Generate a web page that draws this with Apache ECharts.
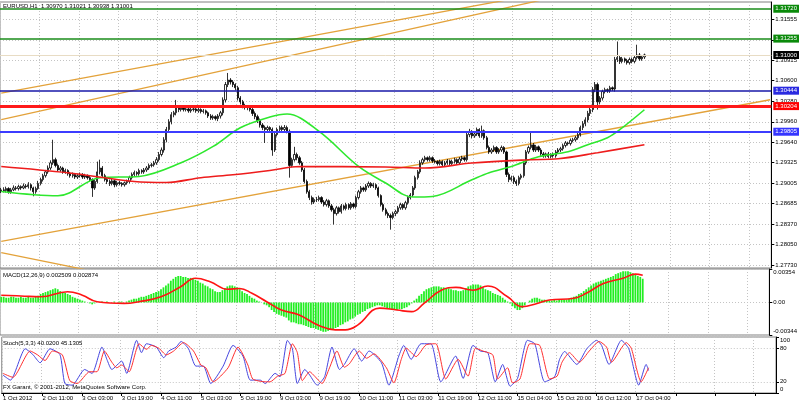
<!DOCTYPE html>
<html><head><meta charset="utf-8">
<script src="https://cdn.jsdelivr.net/npm/echarts@6/dist/echarts.min.js"></script>
<style>html,body{margin:0;padding:0;background:#fff}#c{width:800px;height:403px}</style>
</head><body><div id="c"></div>
<script>
// ---------- tick labels ----------
const timeLabels = ['1 Oct 2012','2 Oct 11:00','3 Oct 03:00','3 Oct 19:00','4 Oct 11:00','5 Oct 03:00','5 Oct 19:00','9 Oct 03:00','9 Oct 19:00','10 Oct 11:00','11 Oct 03:00','11 Oct 19:00','12 Oct 11:00','15 Oct 04:00','15 Oct 20:00','16 Oct 12:00','17 Oct 04:00'];
const priceTicks = [1.27730,1.28050,1.28370,1.28685,1.29005,1.29325,1.29640,1.29960,1.30280,1.30600,1.30915,1.31235,1.31555];
const macdTicks = [0.00354, 0, -0.00344];
const stochTicks = [100, 80, 20, 0];

// ---------- EURUSD H1 candles ----------
const opens = [
1.2888,1.2890,1.2889,1.2892,1.2887,1.2890,1.2893,1.2892,1.2895,1.2893,1.2896,1.2895,1.2898,1.2893,1.2887,1.2892,
1.2900,1.2906,1.2912,1.2918,1.2924,1.2932,1.2937,1.2928,1.2921,1.2924,1.2918,1.2920,1.2915,1.2912,1.2914,1.2910,
1.2912,1.2914,1.2910,1.2912,1.2909,1.2906,1.2893,1.2903,1.2918,1.2924,1.2912,1.2906,1.2903,1.2900,1.2904,1.2898,
1.2901,1.2900,1.2898,1.2901,1.2903,1.2909,1.2914,1.2917,1.2915,1.2920,1.2918,1.2921,1.2924,1.2928,1.2929,1.2932,
1.2937,1.2945,1.2952,1.2968,1.2984,1.2996,1.3007,1.3010,1.3018,1.3015,1.3018,1.3015,1.3016,1.3013,1.3015,1.3016,
1.3013,1.3015,1.3012,1.3013,1.3010,1.3005,1.3002,1.3004,1.3001,1.3005,1.3010,1.3030,1.3054,1.3061,1.3058,1.3054,
1.3049,1.3033,1.3027,1.3021,1.3019,1.3018,1.3015,1.3009,1.3004,1.2998,1.2991,1.2987,1.2984,1.2987,1.2984,1.2952,
1.2976,1.2984,1.2987,1.2984,1.2987,1.2981,1.2928,1.2937,1.2945,1.2940,1.2932,1.2921,1.2903,1.2887,1.2878,1.2871,
1.2875,1.2875,1.2878,1.2871,1.2867,1.2873,1.2865,1.2859,1.2853,1.2862,1.2856,1.2865,1.2861,1.2867,1.2862,1.2868,
1.2864,1.2878,1.2887,1.2893,1.2890,1.2896,1.2900,1.2896,1.2898,1.2893,1.2881,1.2867,1.2859,1.2853,1.2850,1.2847,
1.2853,1.2856,1.2862,1.2867,1.2862,1.2870,1.2878,1.2882,1.2893,1.2909,1.2918,1.2932,1.2937,1.2940,1.2937,1.2940,
1.2935,1.2934,1.2931,1.2934,1.2929,1.2932,1.2935,1.2931,1.2934,1.2937,1.2932,1.2938,1.2940,1.2937,1.2976,1.2981,
1.2974,1.2977,1.2984,1.2974,1.2982,1.2971,1.2956,1.2949,1.2952,1.2956,1.2949,1.2952,1.2956,1.2949,1.2914,1.2906,
1.2909,1.2903,1.2900,1.2909,1.2912,1.2932,1.2949,1.2956,1.2960,1.2952,1.2957,1.2952,1.2946,1.2943,1.2946,1.2942,
1.2945,1.2943,1.2949,1.2952,1.2954,1.2959,1.2963,1.2962,1.2967,1.2968,1.2971,1.2976,1.2987,1.2993,1.2999,1.3009,
1.3015,1.3046,1.3054,1.3027,1.3033,1.3043,1.3046,1.3044,1.3049,1.3047,1.3093,1.3096,1.3090,1.3094,1.3091,1.3088,
1.3093,1.3090,1.3096,1.3100,1.3094,1.30970];
const closes = [
1.2890,1.2889,1.2892,1.2887,1.2890,1.2893,1.2892,1.2895,1.2893,1.2896,1.2895,1.2898,1.2893,1.2887,1.2892,1.2900,
1.2906,1.2912,1.2918,1.2924,1.2932,1.2937,1.2928,1.2921,1.2924,1.2918,1.2920,1.2915,1.2912,1.2914,1.2910,1.2912,
1.2914,1.2910,1.2912,1.2909,1.2906,1.2893,1.2903,1.2918,1.2924,1.2912,1.2906,1.2903,1.2900,1.2904,1.2898,1.2901,
1.2900,1.2898,1.2901,1.2903,1.2909,1.2914,1.2917,1.2915,1.2920,1.2918,1.2921,1.2924,1.2928,1.2929,1.2932,1.2937,
1.2945,1.2952,1.2968,1.2984,1.2996,1.3007,1.3010,1.3018,1.3015,1.3018,1.3015,1.3016,1.3013,1.3015,1.3016,1.3013,
1.3015,1.3012,1.3013,1.3010,1.3005,1.3002,1.3004,1.3001,1.3005,1.3010,1.3030,1.3054,1.3061,1.3058,1.3054,1.3049,
1.3033,1.3027,1.3021,1.3019,1.3018,1.3015,1.3009,1.3004,1.2998,1.2991,1.2987,1.2984,1.2987,1.2984,1.2952,1.2976,
1.2984,1.2987,1.2984,1.2987,1.2981,1.2928,1.2937,1.2945,1.2940,1.2932,1.2921,1.2903,1.2887,1.2878,1.2871,1.2875,
1.2875,1.2878,1.2871,1.2867,1.2873,1.2865,1.2859,1.2853,1.2862,1.2856,1.2865,1.2861,1.2867,1.2862,1.2868,1.2864,
1.2878,1.2887,1.2893,1.2890,1.2896,1.2900,1.2896,1.2898,1.2893,1.2881,1.2867,1.2859,1.2853,1.2850,1.2847,1.2853,
1.2856,1.2862,1.2867,1.2862,1.2870,1.2878,1.2882,1.2893,1.2909,1.2918,1.2932,1.2937,1.2940,1.2937,1.2940,1.2935,
1.2934,1.2931,1.2934,1.2929,1.2932,1.2935,1.2931,1.2934,1.2937,1.2932,1.2938,1.2940,1.2937,1.2976,1.2981,1.2974,
1.2977,1.2984,1.2974,1.2982,1.2971,1.2956,1.2949,1.2952,1.2956,1.2949,1.2952,1.2956,1.2949,1.2914,1.2906,1.2909,
1.2903,1.2900,1.2909,1.2912,1.2932,1.2949,1.2956,1.2960,1.2952,1.2957,1.2952,1.2946,1.2943,1.2946,1.2942,1.2945,
1.2943,1.2949,1.2952,1.2954,1.2959,1.2963,1.2962,1.2967,1.2968,1.2971,1.2976,1.2987,1.2993,1.2999,1.3009,1.3015,
1.3046,1.3054,1.3027,1.3033,1.3043,1.3046,1.3044,1.3049,1.3047,1.3093,1.3096,1.3090,1.3094,1.3091,1.3088,1.3093,
1.3090,1.3096,1.3100,1.3094,1.3097,1.31001];
const highs = [
1.2893,1.2894,1.2895,1.2894,1.2893,1.2897,1.2896,1.2898,1.2897,1.2900,1.2899,1.2902,1.2900,1.2895,1.2895,1.2904,
1.2909,1.2915,1.2921,1.2928,1.2936,1.2968,1.2940,1.2931,1.2927,1.2926,1.2923,1.2922,1.2918,1.2917,1.2916,1.2915,
1.2917,1.2916,1.2915,1.2914,1.2912,1.2908,1.2906,1.2934,1.2937,1.2927,1.2915,1.2909,1.2906,1.2907,1.2906,1.2904,
1.2904,1.2902,1.2903,1.2906,1.2912,1.2917,1.2920,1.2919,1.2923,1.2922,1.2924,1.2927,1.2931,1.2932,1.2935,1.2941,
1.2949,1.2956,1.2972,1.2988,1.3000,1.3011,1.3013,1.3030,1.3021,1.3021,1.3020,1.3019,1.3019,1.3018,1.3019,1.3018,
1.3018,1.3017,1.3016,1.3015,1.3012,1.3008,1.3007,1.3006,1.3008,1.3013,1.3034,1.3058,1.3072,1.3064,1.3061,1.3056,
1.3052,1.3036,1.3030,1.3024,1.3022,1.3020,1.3018,1.3012,1.3007,1.3001,1.2994,1.2990,1.2990,1.2989,1.2987,1.2979,
1.2987,1.2990,1.2990,1.2991,1.2990,1.2984,1.2940,1.2957,1.2948,1.2943,1.2935,1.2924,1.2906,1.2890,1.2881,1.2878,
1.2879,1.2881,1.2880,1.2874,1.2876,1.2875,1.2868,1.2862,1.2865,1.2864,1.2868,1.2867,1.2870,1.2869,1.2871,1.2870,
1.2881,1.2890,1.2896,1.2895,1.2899,1.2903,1.2902,1.2901,1.2900,1.2895,1.2883,1.2870,1.2862,1.2856,1.2853,1.2856,
1.2859,1.2865,1.2870,1.2869,1.2873,1.2881,1.2885,1.2896,1.2912,1.2921,1.2936,1.2940,1.2943,1.2942,1.2943,1.2942,
1.2938,1.2936,1.2937,1.2936,1.2935,1.2938,1.2937,1.2937,1.2940,1.2939,1.2941,1.2943,1.2942,1.2980,1.2985,1.2983,
1.2980,1.2987,1.2986,1.2990,1.2984,1.2974,1.2959,1.2955,1.2959,1.2958,1.2955,1.2959,1.2958,1.2951,1.2917,1.2912,
1.2912,1.2906,1.2912,1.2915,1.2935,1.2952,1.2959,1.2979,1.2963,1.2960,1.2959,1.2955,1.2949,1.2948,1.2949,1.2947,
1.2948,1.2952,1.2955,1.2957,1.2962,1.2966,1.2965,1.2970,1.2971,1.2974,1.2979,1.2990,1.2997,1.3003,1.3013,1.3019,
1.3050,1.3058,1.3057,1.3036,1.3046,1.3049,1.3048,1.3052,1.3051,1.3097,1.3121,1.3099,1.3097,1.3096,1.3094,1.3096,
1.3096,1.3099,1.3116,1.3103,1.3100,1.31021];
const lows = [
1.2885,1.2886,1.2886,1.2884,1.2884,1.2888,1.2889,1.2889,1.2890,1.2891,1.2892,1.2892,1.2889,1.2880,1.2884,1.2890,
1.2897,1.2903,1.2909,1.2915,1.2921,1.2929,1.2925,1.2918,1.2918,1.2915,1.2915,1.2912,1.2909,1.2909,1.2907,1.2907,
1.2909,1.2907,1.2907,1.2906,1.2903,1.2879,1.2890,1.2900,1.2914,1.2909,1.2903,1.2899,1.2896,1.2897,1.2894,1.2895,
1.2897,1.2895,1.2895,1.2898,1.2900,1.2906,1.2911,1.2912,1.2912,1.2915,1.2915,1.2918,1.2921,1.2925,1.2926,1.2929,
1.2934,1.2942,1.2948,1.2964,1.2980,1.2992,1.3003,1.3006,1.3011,1.3012,1.3012,1.3012,1.3010,1.3010,1.3012,1.3010,
1.3010,1.3009,1.3009,1.3007,1.3002,1.2999,1.2999,1.2998,1.2997,1.3001,1.3006,1.3026,1.3050,1.3054,1.3050,1.3045,
1.3029,1.3023,1.3017,1.3015,1.3014,1.3012,1.3005,1.3000,1.2994,1.2987,1.2983,1.2963,1.2980,1.2981,1.2943,1.2949,
1.2973,1.2981,1.2981,1.2981,1.2978,1.2909,1.2925,1.2934,1.2936,1.2929,1.2918,1.2900,1.2884,1.2874,1.2867,1.2868,
1.2871,1.2872,1.2868,1.2864,1.2864,1.2862,1.2856,1.2836,1.2850,1.2853,1.2853,1.2858,1.2858,1.2859,1.2859,1.2861,
1.2861,1.2875,1.2884,1.2887,1.2887,1.2893,1.2893,1.2893,1.2890,1.2878,1.2864,1.2856,1.2850,1.2846,1.2828,1.2844,
1.2849,1.2853,1.2859,1.2859,1.2859,1.2867,1.2875,1.2879,1.2890,1.2906,1.2915,1.2929,1.2934,1.2934,1.2934,1.2932,
1.2931,1.2928,1.2928,1.2926,1.2926,1.2929,1.2928,1.2928,1.2931,1.2929,1.2929,1.2935,1.2934,1.2934,1.2972,1.2970,
1.2971,1.2974,1.2971,1.2971,1.2968,1.2953,1.2946,1.2946,1.2949,1.2946,1.2946,1.2949,1.2946,1.2910,1.2902,1.2903,
1.2899,1.2896,1.2897,1.2906,1.2909,1.2929,1.2946,1.2953,1.2949,1.2949,1.2949,1.2943,1.2940,1.2940,1.2939,1.2939,
1.2940,1.2940,1.2946,1.2949,1.2951,1.2956,1.2959,1.2959,1.2964,1.2965,1.2968,1.2973,1.2983,1.2989,1.2995,1.3005,
1.3011,1.3042,1.3015,1.3023,1.3029,1.3040,1.3041,1.3041,1.3044,1.3043,1.3089,1.3086,1.3087,1.3088,1.3085,1.3085,
1.3087,1.3087,1.3093,1.3091,1.3091,1.30938];

// ---------- moving averages [bar, price] ----------
const maGreen = [[0,1.28875],[23,1.28808],[40,1.29089],[56,1.29109],[73,1.29322],[86,1.29576],[97,1.29867],[109,1.30034],[116,1.30080],[129,1.29809],[145,1.29264],[156,1.29006],[167,1.28788],[175,1.28797],[191,1.29057],[198,1.29166],[207,1.29264],[218,1.29416],[230,1.29493],[238,1.29602],[246,1.29711],[251,1.29836],[261,1.30147]];
const maRed = [[0,1.29264],[27,1.29166],[54,1.29031],[67,1.29015],[81,1.29089],[94,1.29135],[109,1.29202],[121,1.29264],[156,1.29255],[172,1.29239],[191,1.29317],[214,1.29369],[226,1.29384],[242,1.29478],[261,1.29602]];

// ---------- trend lines [bar, price] ----------
const trendA = [[0,1.30407],[312,1.32613]];
const trendB = [[0,1.29992],[312,1.32644]];
const trendC = [[0,1.28097],[312,1.30303]];
const trendD = [[0,1.27921],[40,1.27612]];

// ---------- horizontal levels ----------
const levelValues = [1.31720, 1.31255, 1.31000, 1.30444, 1.30204, 1.29805];

// ---------- MACD(12,26,9) ----------
const macdHist = [
.0006,.0006,.0005,.0005,.0006,.0006,.0005,.0005,.0006,.0005,.0005,.0006,.0005,.0005,.0006,.0007,
.0009,.0010,.0011,.0012,.0013,.0014,.0015,.0014,.0012,.0011,.0010,.0009,.0008,.0006,.0005,.0004,
.0003,.0002,.0001,0,-.0001,-.0002,-.0001,0,0,.0001,0,.0001,0,0,.0001,0,
.0001,.0001,0,.0001,.0002,.0003,.0004,.0004,.0005,.0006,.0006,.0007,.0008,.0009,.0010,.0011,
.0012,.0014,.0016,.0018,.0020,.0023,.0025,.0027,.0028,.0028,.0027,.0027,.0026,.0026,.0025,.0024,
.0023,.0021,.0020,.0018,.0017,.0015,.0014,.0012,.0011,.0011,.0013,.0015,.0017,.0018,.0018,.0017,
.0016,.0014,.0012,.0010,.0009,.0007,.0005,.0004,.0002,.0001,0,-.0002,-.0003,-.0005,-.0008,-.0010,
-.0012,-.0013,-.0014,-.0015,-.0016,-.0019,-.0021,-.0021,-.0022,-.0023,-.0023,-.0024,-.0025,-.0026,-.0027,-.0027,
-.0028,-.0029,-.0030,-.0031,-.0031,-.0030,-.0029,-.0028,-.0027,-.0026,-.0024,-.0023,-.0021,-.0020,-.0018,-.0017,
-.0015,-.0013,-.0012,-.0010,-.0009,-.0007,-.0006,-.0005,-.0004,-.0003,-.0003,-.0004,-.0005,-.0006,-.0007,-.0008,
-.0008,-.0008,-.0007,-.0007,-.0006,-.0005,-.0003,-.0001,.0002,.0004,.0007,.0009,.0012,.0014,.0015,.0016,
.0017,.0017,.0017,.0016,.0016,.0015,.0015,.0014,.0013,.0013,.0012,.0012,.0013,.0015,.0017,.0018,
.0019,.0019,.0019,.0018,.0016,.0014,.0013,.0012,.0010,.0009,.0008,.0007,.0005,.0003,.0001,-.0001,
-.0004,-.0006,-.0008,-.0008,-.0006,-.0003,0,.0002,.0004,.0005,.0005,.0004,.0003,.0003,.0002,.0002,
.0002,.0003,.0002,.0003,.0003,.0003,.0003,.0004,.0005,.0006,.0007,.0009,.0010,.0012,.0014,.0016,
.0018,.0020,.0021,.0022,.0023,.0024,.0025,.0026,.0027,.0028,.0030,.0031,.0032,.0033,.0033,.0033,
.0032,.0031,.0030,.0028,.0027,.002509];
const macdSignal = [[0,.00077],[8,.00069],[16,.0006],[27,.00114],[33,.00077],[39,.00008],[50,-.0001],[56,.00008],[65,.0006],[73,.00167],[79,.00256],[85,.0022],[92,.0014],[97,.00148],[102,.00097],[108,.00008],[114,-.0008],[121,-.0013],[129,-.0024],[136,-.0029],[140,-.0029],[145,-.0024],[154,-.0006],[161,-.0008],[167,-.00097],[172,-.0001],[179,.0013],[185,.0016],[192,.0013],[198,.00174],[206,.0006],[212,-.00044],[218,-.0001],[223,.00026],[233,.00044],[238,.00097],[245,.002],[253,.00256],[258,.003],[261,.002874]];

// ---------- Stochastic(5,3,3) [bar, value] ----------
const stochMain = [[0,32],[3,23],[9,79],[12,69],[15,54],[19,79],[23,69],[25,17],[28,14],[33,42],[36,35],[40,82],[42,60],[44,42],[48,57],[50,35],[54,94],[56,72],[58,88],[62,82],[65,63],[67,75],[70,82],[72,92],[75,79],[78,48],[81,48],[84,17],[89,48],[93,85],[97,66],[100,23],[104,23],[106,17],[110,35],[112,29],[115,94],[117,79],[119,17],[122,42],[124,32],[127,14],[130,29],[133,82],[136,42],[138,51],[142,79],[145,57],[148,75],[153,54],[156,14],[160,66],[162,85],[165,60],[169,88],[173,88],[177,20],[183,66],[186,26],[190,85],[193,75],[196,72],[199,20],[202,51],[205,12],[208,26],[212,94],[215,88],[219,20],[223,29],[225,60],[227,74],[232,51],[236,79],[240,94],[242,85],[245,51],[250,94],[253,79],[257,14],[260,51],[261,40.02]];
const stochSignal = [[0,35],[4,28],[11,75],[14,68],[17,58],[20,75],[24,68],[27,22],[30,17],[35,38],[38,38],[41,75],[44,55],[46,45],[48,50],[51,38],[55,88],[58,78],[60,85],[63,80],[66,68],[69,75],[73,90],[77,75],[80,50],[82,45],[85,20],[91,45],[95,82],[99,50],[101,25],[106,20],[108,20],[111,30],[114,35],[117,88],[119,72],[121,22],[124,38],[126,30],[129,17],[132,45],[135,75],[138,46],[140,52],[144,75],[147,62],[150,70],[155,45],[158,18],[161,60],[163,80],[167,65],[171,86],[175,88],[179,25],[184,60],[188,30],[191,80],[194,75],[198,68],[200,25],[204,45],[206,18],[209,25],[213,88],[217,85],[221,25],[224,30],[226,55],[229,72],[233,55],[237,75],[241,92],[244,82],[246,55],[252,90],[254,80],[258,20],[261,45.13]];

// ---------- build chart ----------
const FONT = '"Liberation Sans", Arial, sans-serif';
const SLOTS = 313;
const cats = Array.from({length: SLOTS}, (_, i) => String(i));
const candles = opens.map((o, i) => [o, closes[i], lows[i], highs[i]]);
const dotted = {color: '#c4c4c4', type: [1, 2], width: 1};

const levelStyle = [
  {line: '#1a8c1a', w: 1.5, box: '#0a8a0a'},
  {line: '#1a8c1a', w: 1.5, box: '#0a8a0a'},
  {line: '#e8dcc4', w: 1, box: '#000000'},
  {line: '#1818a8', w: 1.5, box: '#2a2ae0'},
  {line: '#ff1a1a', w: 3, box: '#ff0000'},
  {line: '#3c3cff', w: 2, box: '#3535ff'}
];

function xAx(gi, show) {
  return {
    type: 'category', gridIndex: gi, data: cats, boundaryGap: true,
    axisLine: {show: show, lineStyle: {color: '#000'}},
    axisTick: {show: show, interval: 15, alignWithLabel: true, length: 3, lineStyle: {color: '#000'}},
    axisLabel: {show: show, interval: 15, align: 'left', margin: 2, fontSize: 6, fontFamily: FONT, color: '#000',
      formatter: v => { const i = +v; return (i % 16 === 0 && timeLabels[i / 16]) || ''; }},
    splitLine: {show: true, interval: 15, lineStyle: dotted}
  };
}
const richEdge = {
  t: {padding: [7, 0, 0, 0], fontSize: 6, fontFamily: FONT, color: '#000'},
  b: {padding: [0, 0, 7, 0], fontSize: 6, fontFamily: FONT, color: '#000'}
};

const chart = echarts.init(document.getElementById('c'), null, {renderer: 'canvas'});
chart.setOption({
  animation: false,
  backgroundColor: '#ffffff',
  grid: [
    {left: 0, right: 24, top: 2, height: 266, show: true, borderColor: '#808080', borderWidth: 1, backgroundColor: '#fff'},
    {left: 0, right: 24, top: 269, height: 66, show: true, borderColor: '#808080', borderWidth: 1, backgroundColor: '#fff'},
    {left: 0, right: 24, top: 337, height: 56, show: true, borderColor: '#808080', borderWidth: 1, backgroundColor: '#fff'}
  ],
  xAxis: [xAx(0, false), xAx(1, false), xAx(2, true)],
  yAxis: [
    {type: 'value', gridIndex: 0, position: 'right', min: 1.27683, max: 1.31825,
      axisLine: {show: true, lineStyle: {color: '#000'}},
      axisTick: {show: true, customValues: priceTicks, length: 3, lineStyle: {color: '#000'}},
      axisLabel: {customValues: priceTicks, formatter: v => v.toFixed(5), margin: 4, fontSize: 6, fontFamily: FONT, color: '#000'},
      splitLine: {show: true, lineStyle: dotted}},
    {type: 'value', gridIndex: 1, position: 'right', min: -0.00344, max: 0.00354,
      axisLine: {show: true, lineStyle: {color: '#000'}},
      axisTick: {show: true, customValues: macdTicks, length: 3, lineStyle: {color: '#000'}},
      axisLabel: {customValues: macdTicks, margin: 4, fontSize: 6, fontFamily: FONT, color: '#000', rich: richEdge,
        formatter: v => v === 0 ? '0.00' : (v > 0 ? '{t|' + v.toFixed(5) + '}' : '{b|' + v.toFixed(5) + '}')},
      splitLine: {show: true, lineStyle: dotted}},
    {type: 'value', gridIndex: 2, position: 'right', min: 0, max: 100,
      axisLine: {show: true, lineStyle: {color: '#000'}},
      axisTick: {show: true, customValues: stochTicks, length: 3, lineStyle: {color: '#000'}},
      axisLabel: {customValues: stochTicks, margin: 4, fontSize: 6, fontFamily: FONT, color: '#000', rich: richEdge,
        formatter: v => v === 100 ? '{t|100}' : (v === 0 ? '{b|0}' : String(v))},
      splitLine: {show: true, lineStyle: dotted}}
  ],
  graphic: [
    {type: 'text', left: 3, top: 3, z: 100, style: {text: 'EURUSD,H1  1.30970 1.31021 1.30938 1.31001', fontSize: 6, fontFamily: FONT, fill: '#000'}},
    {type: 'text', left: 3, top: 272, z: 100, style: {text: 'MACD(12,26,9) 0.002509 0.002874', fontSize: 6, fontFamily: FONT, fill: '#000'}},
    {type: 'text', left: 3, top: 340, z: 100, style: {text: 'Stoch(5,3,3) 40.0200 45.1305', fontSize: 6, fontFamily: FONT, fill: '#000'}},
    {type: 'text', left: 3, top: 384, z: 100, style: {text: 'FX Garant, \u00a9 2001-2012, MetaQuotes Software Corp.', fontSize: 6, fontFamily: FONT, fill: '#000'}}
  ],
  series: [
    {type: 'candlestick', xAxisIndex: 0, yAxisIndex: 0, data: candles, barWidth: 1.8, z: 3,
      itemStyle: {color: '#ffffff', color0: '#000000', borderColor: '#000000', borderColor0: '#000000', borderWidth: 0.8},
      markLine: {symbol: 'none', silent: true, animation: false, z: 10, precision: 5,
        data: levelValues.map((v, k) => ({
          yAxis: v,
          lineStyle: {color: levelStyle[k].line, width: levelStyle[k].w, type: 'solid'},
          label: {show: true, position: 'end', distance: 2, formatter: () => v.toFixed(5),
            backgroundColor: levelStyle[k].box, color: '#fff', fontSize: 6, fontFamily: FONT, padding: [1, 2, 1, 2]}
        }))}},
    {type: 'line', xAxisIndex: 0, yAxisIndex: 0, data: maGreen, smooth: 0.35, symbol: 'none', z: 4, lineStyle: {color: '#2ee82e', width: 1.6}},
    {type: 'line', xAxisIndex: 0, yAxisIndex: 0, data: maRed, smooth: 0.35, symbol: 'none', z: 4, lineStyle: {color: '#ee1c1c', width: 1.6}},
    {type: 'line', xAxisIndex: 0, yAxisIndex: 0, data: trendA, symbol: 'none', clip: true, z: 2, lineStyle: {color: '#e3a23a', width: 1.3}},
    {type: 'line', xAxisIndex: 0, yAxisIndex: 0, data: trendB, symbol: 'none', clip: true, z: 2, lineStyle: {color: '#e3a23a', width: 1.3}},
    {type: 'line', xAxisIndex: 0, yAxisIndex: 0, data: trendC, symbol: 'none', clip: true, z: 2, lineStyle: {color: '#e3a23a', width: 1.3}},
    {type: 'line', xAxisIndex: 0, yAxisIndex: 0, data: trendD, symbol: 'none', clip: true, z: 2, lineStyle: {color: '#e3a23a', width: 1.3}},
    {type: 'bar', xAxisIndex: 1, yAxisIndex: 1, data: macdHist, barWidth: '72%', itemStyle: {color: '#22ee22'}},
    {type: 'line', xAxisIndex: 1, yAxisIndex: 1, data: macdSignal, smooth: 0.45, symbol: 'none', z: 4, lineStyle: {color: '#ff1414', width: 1.6}},
    {type: 'line', xAxisIndex: 2, yAxisIndex: 2, data: stochMain, smooth: 0.2, symbol: 'none', lineStyle: {color: '#4646e0', width: 1}},
    {type: 'line', xAxisIndex: 2, yAxisIndex: 2, data: stochSignal, smooth: 0.2, symbol: 'none', lineStyle: {color: '#ff3030', width: 1}}
  ]
});
</script></body></html>
